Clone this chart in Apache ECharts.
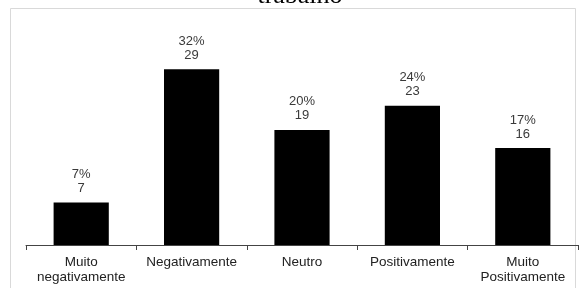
<!DOCTYPE html>
<html><head><meta charset="utf-8">
<script src="https://cdn.jsdelivr.net/npm/echarts@6/dist/echarts.min.js"></script>
<style>html,body{margin:0;padding:0;background:#fff}#c{width:581px;height:288px}</style>
</head><body><div id="c"></div>
<script>
const categories = ["Muito\nnegativamente", "Negativamente", "Neutro", "Positivamente", "Muito\nPositivamente"];
const counts = [7, 29, 19, 23, 16];
const percents = ["7%", "32%", "20%", "24%", "17%"];
const titleText = "trabalho";

const chart = echarts.init(document.getElementById('c'), null, {renderer: 'canvas'});
chart.setOption({
  animation: false,
  backgroundColor: '#fff',
  title: {
    text: titleText, left: 295, top: -22, textAlign: 'center',
    textStyle: {fontFamily: 'Liberation Serif', fontSize: 26, fontWeight: 'normal', color: '#000', lineHeight: 26}
  },
  graphic: [{
    type: 'rect', shape: {x: 10.5, y: 8.5, width: 565, height: 290},
    style: {fill: 'none', stroke: '#d9d9d9', lineWidth: 1}, silent: true, z: -1
  }],
  grid: {left: 26, right: 3, top: 33, bottom: 43},
  xAxis: {
    type: 'category', data: categories,
    axisLine: {lineStyle: {color: '#444', width: 1}},
    axisTick: {show: true, length: 5, lineStyle: {color: '#444'}},
    axisLabel: {fontFamily: 'Liberation Sans', fontSize: 13.5, color: '#222', lineHeight: 15, margin: 10, interval: 0}
  },
  yAxis: {type: 'value', min: 0, max: 35, show: false, splitLine: {show: false}},
  series: [{
    type: 'bar', data: counts, barWidth: '50%',
    itemStyle: {color: '#000'},
    label: {
      show: true, position: 'top', distance: 7,
      fontFamily: 'Liberation Sans', fontSize: 13, color: '#3a3a3a', lineHeight: 14,
      formatter: p => percents[p.dataIndex] + '\n' + p.value
    }
  }]
});
</script></body></html>
